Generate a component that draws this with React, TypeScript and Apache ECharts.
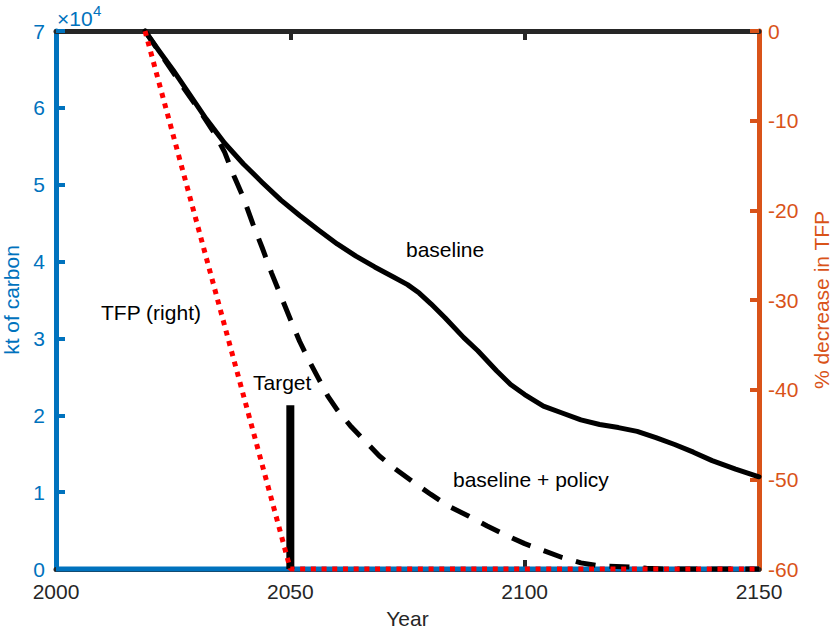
import React, { useEffect, useRef } from "react";
import * as echarts from "echarts";

// ---- data (kt of carbon, % change in TFP) ----
const baselineYears = [2019, 2022, 2025, 2028, 2032, 2036, 2040, 2044, 2048, 2052, 2056, 2060, 2064, 2068, 2072, 2075, 2077.5, 2080, 2083, 2087, 2090, 2094, 2097, 2100, 2104, 2108, 2112, 2116, 2120, 2124, 2128, 2132, 2136, 2140, 2145, 2150];
const baselineKt = [70000, 67400, 64900, 62200, 58600, 55400, 52700, 50300, 48000, 46000, 44100, 42300, 40700, 39300, 38000, 37000, 35900, 34500, 32700, 30100, 28400, 25800, 24000, 22700, 21200, 20300, 19400, 18800, 18400, 17900, 17100, 16200, 15200, 14100, 13000, 12000];

const policyYears = [2019, 2023, 2027, 2031, 2034, 2036, 2038, 2040, 2042, 2044, 2046, 2048, 2050, 2052, 2054, 2056, 2058, 2060, 2063, 2066, 2069, 2072, 2076, 2080, 2084, 2088, 2092, 2096, 2100, 2104, 2108, 2112, 2116, 2121, 2126, 2130, 2150];
const policyKt = [70000, 66400, 62800, 59300, 56500, 54200, 51100, 48300, 44900, 41800, 38500, 35500, 32500, 29600, 27100, 24800, 22500, 20700, 18500, 16600, 14700, 13200, 11400, 9700, 8100, 6900, 5600, 4400, 3300, 2400, 1500, 800, 400, 300, 100, 0, 0];

const zeroYears = [2000, 2150];
const zeroKt = [0, 0];

const targetYears = [2050, 2050];
const targetKt = [0, 21300];

const tfpYears = [2019, 2050, 2150];
const tfpPct = [0, -60, -60];

const xTicks = [2000, 2050, 2100, 2150];

const zip = (xs: number[], ys: number[]) => xs.map((x, i) => [x, ys[i]]);

const FONT = '"Liberation Sans", Arial, Helvetica, sans-serif';
const BLUE = "#0072BD";
const ORANGE = "#D95319";
const DARK = "#262626";

export default function App() {
  const ref = useRef<HTMLDivElement>(null);
  useEffect(() => {
    if (!ref.current) return;
    const chart = echarts.init(ref.current, undefined, { renderer: "svg" });
    const xCommon = {
      type: "value",
      min: xTicks[0],
      max: xTicks[xTicks.length - 1],
      interval: 50,
      splitLine: { show: false },
    };
    chart.setOption({
      animation: false,
      backgroundColor: "#ffffff",
      grid: { left: 56, right: 74, top: 31, bottom: 60, containLabel: false, outerBoundsMode: "none" },
      xAxis: [
        {
          ...xCommon,
          position: "bottom",
          axisLine: { show: true, onZero: false, lineStyle: { color: DARK, width: 5 } },
          axisTick: { show: true, inside: true, length: 9, customValues: [2050, 2100], lineStyle: { color: DARK, width: 4 } },
          axisLabel: { color: DARK, fontSize: 21, fontFamily: FONT, margin: 12, formatter: (v: number) => String(v) },
          name: "Year",
          nameLocation: "middle",
          nameGap: 39,
          nameTextStyle: { color: DARK, fontSize: 21, fontFamily: FONT },
        },
        {
          ...xCommon,
          position: "top",
          axisLine: { show: true, onZero: false, lineStyle: { color: DARK, width: 5 } },
          axisTick: { show: true, inside: true, length: 9, customValues: [2050, 2100], lineStyle: { color: DARK, width: 4 } },
          axisLabel: { show: false },
        },
      ],
      yAxis: [
        {
          type: "value",
          position: "left",
          min: 0,
          max: 70000,
          interval: 10000,
          splitLine: { show: false },
          axisLine: { show: true, onZero: false, lineStyle: { color: BLUE, width: 5 } },
          axisTick: { show: true, inside: true, length: 9, lineStyle: { color: BLUE, width: 4 } },
          axisLabel: { color: BLUE, fontSize: 21, fontFamily: FONT, margin: 11, formatter: (v: number) => String(v / 10000) },
          name: "kt of carbon",
          nameLocation: "middle",
          nameRotate: 90,
          nameGap: 27,
          nameTextStyle: { color: BLUE, fontSize: 21, fontFamily: FONT },
        },
        {
          type: "value",
          position: "right",
          min: -60,
          max: 0,
          interval: 10,
          splitLine: { show: false },
          axisLine: { show: true, onZero: false, lineStyle: { color: ORANGE, width: 5 } },
          axisTick: { show: true, inside: true, length: 9, lineStyle: { color: ORANGE, width: 4 } },
          axisLabel: { color: ORANGE, fontSize: 21, fontFamily: FONT, margin: 9 },
          name: "% decrease in TFP",
          nameLocation: "middle",
          nameRotate: 90,
          nameGap: 52,
          nameTextStyle: { color: ORANGE, fontSize: 21, fontFamily: FONT, verticalAlign: "top" },
        },
      ],
      series: [
        {
          name: "zero",
          type: "line",
          yAxisIndex: 0,
          data: zip(zeroYears, zeroKt),
          symbol: "none",
          clip: false,
          z: 2,
          lineStyle: { color: BLUE, width: 5, cap: "butt" },
        },
        {
          name: "baseline",
          type: "line",
          yAxisIndex: 0,
          data: zip(baselineYears, baselineKt),
          symbol: "none",
          smooth: false,
          clip: false,
          z: 3,
          lineStyle: { color: "#000000", width: 5, cap: "round", join: "round" },
        },
        {
          name: "baseline + policy",
          type: "line",
          yAxisIndex: 0,
          data: zip(policyYears, policyKt),
          symbol: "none",
          smooth: false,
          clip: false,
          z: 4,
          lineStyle: { color: "#000000", width: 5, type: [20, 14], cap: "butt", join: "round" },
        },
        {
          name: "Target",
          type: "line",
          yAxisIndex: 0,
          data: zip(targetYears, targetKt),
          symbol: "none",
          clip: false,
          z: 5,
          lineStyle: { color: "#000000", width: 8, cap: "butt" },
        },
        {
          name: "TFP",
          type: "line",
          yAxisIndex: 1,
          data: zip(tfpYears, tfpPct),
          symbol: "none",
          clip: false,
          z: 6,
          lineStyle: { color: "#FF0000", width: 5, type: [5, 5.7], cap: "butt" },
        },
      ],
      graphic: [
        { type: "text", x: 57, y: 18, z: 10, style: { text: "×10", font: `21px ${FONT}`, fill: BLUE, align: "left", verticalAlign: "middle" } },
        { type: "text", x: 93, y: 10, z: 10, style: { text: "4", font: `15px ${FONT}`, fill: BLUE, align: "left", verticalAlign: "middle" } },
        { type: "text", x: 406, y: 249, z: 10, style: { text: "baseline", font: `21px ${FONT}`, fill: "#000", align: "left", verticalAlign: "middle" } },
        { type: "text", x: 453, y: 479, z: 10, style: { text: "baseline + policy", font: `21px ${FONT}`, fill: "#000", align: "left", verticalAlign: "middle" } },
        { type: "text", x: 253, y: 382, z: 10, style: { text: "Target", font: `21px ${FONT}`, fill: "#000", align: "left", verticalAlign: "middle" } },
        { type: "text", x: 101, y: 312, z: 10, style: { text: "TFP (right)", font: `21px ${FONT}`, fill: "#000", align: "left", verticalAlign: "middle" } },
      ],
    });
    return () => chart.dispose();
  }, []);
  return <div ref={ref} style={{ position: "absolute", left: 0, top: 0, width: 833, height: 629 }} />;
}
